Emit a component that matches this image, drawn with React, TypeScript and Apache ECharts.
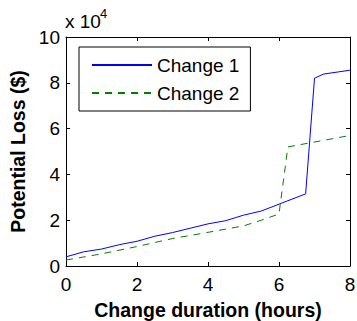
import React, { useEffect, useRef } from "react";
import * as echarts from "echarts";

const hoursChange1 = [0, 0.5, 1, 1.5, 2, 2.5, 3, 3.5, 4, 4.5, 5, 5.5, 6, 6.75, 7, 7.25, 8];
const lossChange1 = [4000, 6200, 7400, 9300, 10800, 13000, 14600, 16500, 18400, 19800, 22200, 24000, 27000, 31500, 82000, 83800, 85500];
const hoursChange2 = [0, 1, 2, 3, 4, 5, 5.5, 6, 6.25, 8];
const lossChange2 = [2600, 5300, 8500, 12000, 14700, 17500, 20000, 22700, 52000, 57000];
const seriesNames = ["Change 1", "Change 2"];
const xTitle = "Change duration (hours)";
const yTitle = "Potential Loss ($)";
const scaleText = "x 10";
const scaleExp = "4";

const FONT = '"Liberation Sans", Arial, Helvetica, sans-serif';

export default function App() {
  const ref = useRef<HTMLDivElement>(null);
  useEffect(() => {
    if (!ref.current) return;
    const chart = echarts.init(ref.current, null, { renderer: "svg" });
    const axisCommon = {
      type: "value" as const,
      axisLine: { show: true, onZero: false, lineStyle: { color: "#000", width: 1 } },
      axisTick: { show: true, inside: true, length: 4, lineStyle: { color: "#000" } },
      splitLine: { show: false },
    };
    chart.setOption({
      animation: false,
      backgroundColor: "#fff",
      textStyle: { fontFamily: FONT },
      grid: {
        left: 66,
        top: 37,
        right: 7,
        bottom: 55,
        containLabel: false,
        outerBoundsMode: "none",
      },
      xAxis: [
        {
          ...axisCommon,
          min: 0,
          max: 8,
          interval: 2,
          position: "bottom",
          axisLabel: { show: true, margin: 9, fontSize: 19, color: "#000", fontFamily: FONT },
          name: xTitle,
          nameLocation: "middle",
          nameGap: 34,
          nameTextStyle: { fontSize: 19.5, fontWeight: "bold", color: "#000", fontFamily: FONT },
        },
        {
          ...axisCommon,
          min: 0,
          max: 8,
          interval: 2,
          position: "top",
          axisLabel: { show: false },
        },
      ],
      yAxis: [
        {
          ...axisCommon,
          min: 0,
          max: 100000,
          interval: 20000,
          position: "left",
          axisLabel: {
            show: true,
            margin: 6,
            fontSize: 19,
            color: "#000",
            fontFamily: FONT,
            formatter: (v: number) => String(v / 10000),
          },
          name: yTitle,
          nameLocation: "middle",
          nameGap: 38,
          nameTextStyle: { fontSize: 19.5, fontWeight: "bold", color: "#000", fontFamily: FONT },
        },
        {
          ...axisCommon,
          min: 0,
          max: 100000,
          interval: 20000,
          position: "right",
          axisLabel: { show: false },
        },
      ],
      legend: {
        orient: "vertical",
        left: 79,
        top: 47,
        data: seriesNames,
        backgroundColor: "#fff",
        borderColor: "#000",
        borderWidth: 1,
        borderRadius: 0,
        padding: [8, 11, 8, 12],
        itemWidth: 60,
        itemHeight: 14,
        itemGap: 8,
        itemStyle: { color: "rgba(0,0,0,0)", borderWidth: 0, opacity: 0 },
        textStyle: { fontSize: 19, lineHeight: 20, color: "#000", fontFamily: FONT },
      },
      graphic: [
        {
          type: "text",
          x: 65,
          y: 21.7,
          style: {
            text: scaleText,
            fill: "#000",
            font: `19px ${FONT}`,
            align: "left",
            verticalAlign: "middle",
          },
        },
        {
          type: "text",
          x: 100,
          y: 13.8,
          style: {
            text: scaleExp,
            fill: "#000",
            font: `13px ${FONT}`,
            align: "left",
            verticalAlign: "middle",
          },
        },
      ],
      series: [
        {
          name: seriesNames[0],
          type: "line",
          xAxisIndex: 0,
          yAxisIndex: 0,
          symbol: "none",
          data: hoursChange1.map((h, i) => [h, lossChange1[i]]),
          lineStyle: { color: "#0000ff", width: 1 },
          itemStyle: { color: "#0000ff" },
        },
        {
          name: seriesNames[1],
          type: "line",
          xAxisIndex: 0,
          yAxisIndex: 0,
          symbol: "none",
          data: hoursChange2.map((h, i) => [h, lossChange2[i]]),
          lineStyle: { color: "#008000", width: 1, type: [7, 6] },
          itemStyle: { color: "#008000" },
        },
      ],
    });
    return () => chart.dispose();
  }, []);
  return (
    <div
      ref={ref}
      style={{ position: "fixed", left: 0, top: 0, width: 357, height: 321 }}
    />
  );
}
